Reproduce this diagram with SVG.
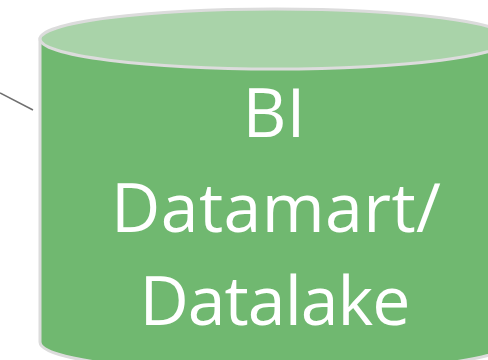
<svg xmlns="http://www.w3.org/2000/svg" width="488" height="360" viewBox="0 0 488 360">
<style>
.t{font-family:"Open Sans","Noto Sans",sans-serif;font-size:68px;fill:#fff;text-anchor:middle}
.c{stroke:#6f6f6f;stroke-width:1.5;fill:none}
.s{stroke:#dcdcdc;stroke-width:3}
</style>
<rect width="488" height="360" fill="#fff"/>
<g id="connectors"><path class="c" d="M0 93L33 110"/></g>
<g id="cylinder">
<path class="s" d="M40 39V342C40 360 145 372 275 372S510 360 510 342V39Z" fill="#70b870"/>
<ellipse class="s" cx="275" cy="39" rx="235" ry="30" fill="#a9d3a9"/>
<text class="t" x="274" y="137">BI</text>
<text class="t" x="276" y="232" textLength="330">Datamart/</text>
<text class="t" x="275" y="325" textLength="271">Datalake</text>
</g>
</svg>
